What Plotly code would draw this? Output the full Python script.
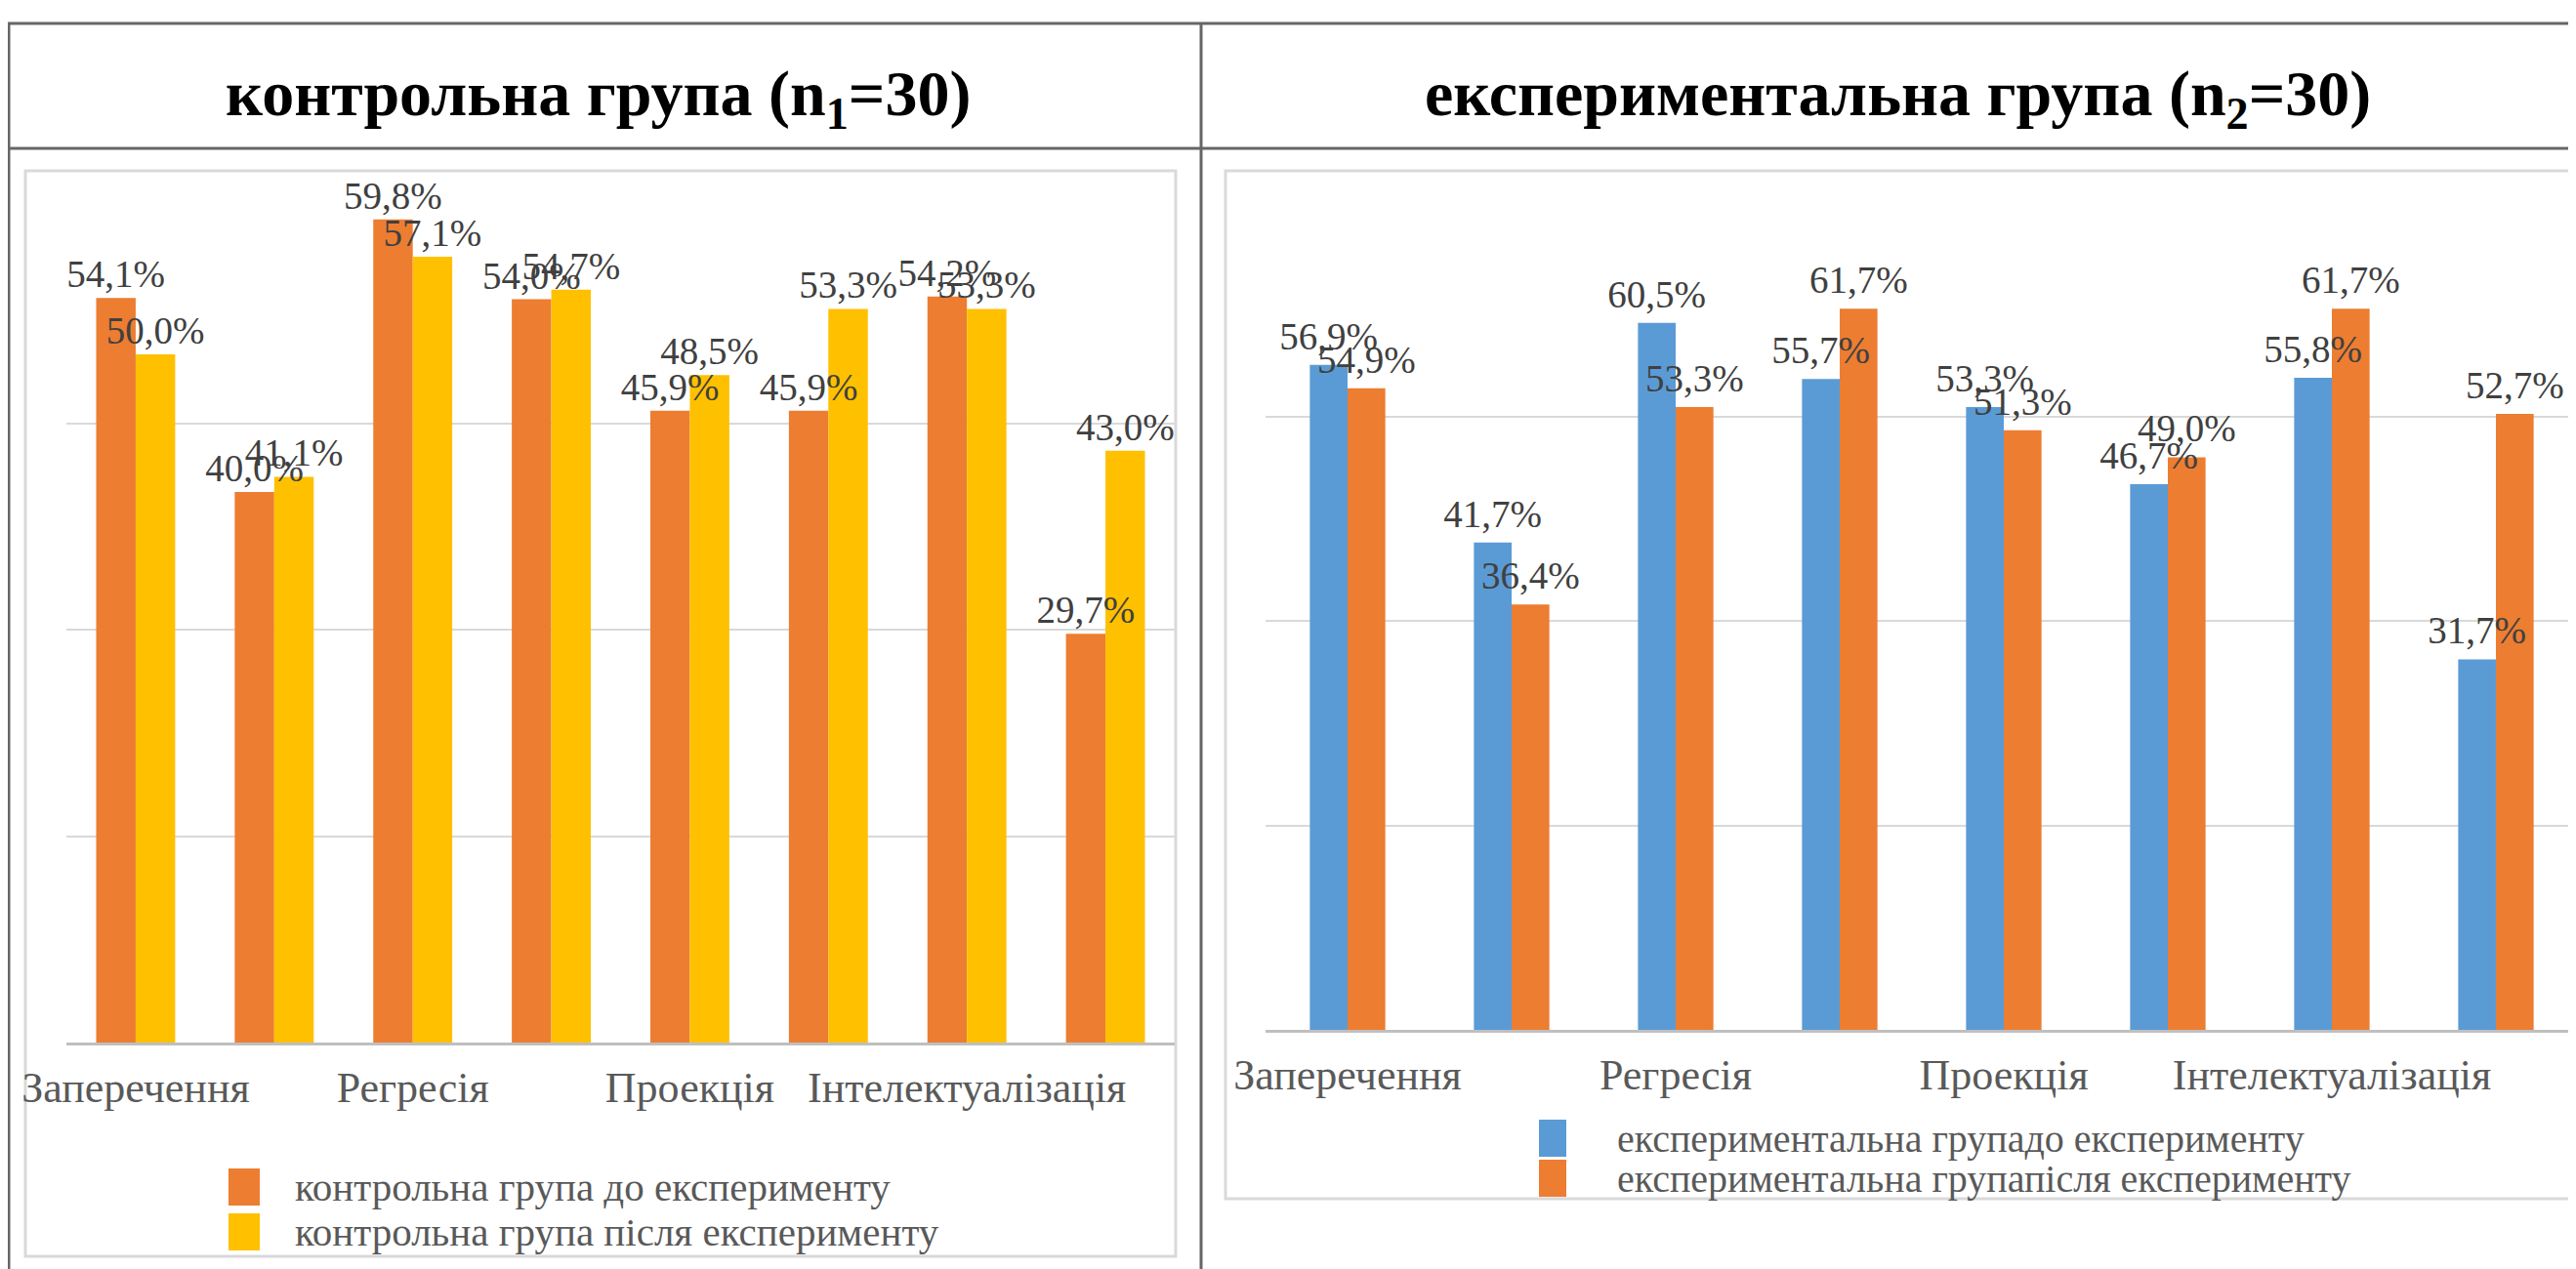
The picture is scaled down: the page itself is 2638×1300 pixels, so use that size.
import plotly.graph_objects as go

W, H = 2638, 1300
OX, OY = 8, 8  # page body margin compensation

categories = ["Заперечення", "Витіснення", "Регресія", "Компенсація",
              "Проекція", "Заміщення", "Інтелектуалізація", "Реактивні утворення"]
tick_labels = ["Заперечення", "Регресія", "Проекція", "Інтелектуалізація"]
tick_cats = [categories[0], categories[2], categories[4], categories[6]]

control_names = ["контрольна група до експерименту", "контрольна група після експерименту"]
control_before = [54.1, 40.0, 59.8, 54.0, 45.9, 45.9, 54.2, 29.7]
control_after = [50.0, 41.1, 57.1, 54.7, 48.5, 53.3, 53.3, 43.0]

exp_names = ["експериментальна групадо експерименту", "експериментальна групапісля експерименту"]
exp_before = [56.9, 41.7, 60.5, 55.7, 53.3, 46.7, 55.8, 31.7]
exp_after = [54.9, 36.4, 53.3, 61.7, 51.3, 49.0, 61.7, 52.7]

titles = ["контрольна група (n<sub>1</sub>=30)", "експериментальна група (n<sub>2</sub>=30)"]

ORANGE = "#ED7D31"
YELLOW = "#FFC000"
BLUE = "#5B9BD5"
FONT = "Liberation Serif"
LABEL_COLOR = "#404040"
TICK_COLOR = "#595959"


def px_x(x):
    return (x - OX) / W


def px_y(y):
    return 1 - (y - OY) / H


def bar(x, y, name, color, xa, ya, offset, width):
    return go.Bar(
        x=x, y=y, name=name, xaxis=xa, yaxis=ya,
        offset=offset, width=width,
        marker=dict(color=color, line=dict(width=0)),
        showlegend=False,
    )


def label_bar(x, y, name, xa, ya, offset, width, lift):
    # transparent copy drawn last so value labels sit above every bar
    return go.Bar(
        x=x, y=y, name=name, xaxis=xa, yaxis=ya, base=lift,
        offset=offset, width=width,
        marker=dict(color="rgba(0,0,0,0)", line=dict(width=0)),
        texttemplate="%{y:.1f}%", textposition="outside",
        textfont=dict(family=FONT, size=39, color=LABEL_COLOR),
        constraintext="none", cliponaxis=False, showlegend=False, hoverinfo="skip",
    )


LW = 0.285  # left bar width (category units)
RW = 0.23   # right bar width

series = [
    (control_before, control_names[0], ORANGE, "x", "y", -LW, LW, 0),
    (control_after, control_names[1], YELLOW, "x", "y", 0, LW, 0),
    (exp_before, exp_names[0], BLUE, "x2", "y2", -RW, RW, 0.42),
    (exp_after, exp_names[1], ORANGE, "x2", "y2", 0, RW, 0.42),
]

fig = go.Figure()
for vals, nm, col, xa, ya, off, wd, lift in series:
    fig.add_trace(bar(categories, vals, nm, col, xa, ya, off, wd))
for vals, nm, col, xa, ya, off, wd, lift in series:
    fig.add_trace(label_bar(categories, vals, nm, xa, ya, off, wd, lift))

xcommon = dict(
    type="category", categoryorder="array", categoryarray=categories,
    tickmode="array", tickvals=tick_cats, ticktext=tick_labels,
    tickfont=dict(family=FONT, size=44, color=TICK_COLOR),
    showgrid=False, zeroline=False, showline=True, linecolor="#BFBFBF", linewidth=3,
    ticks="", ticklabelstandoff=5, automargin=False,
)
ycommon = dict(
    showticklabels=False, showgrid=True, gridcolor="#D9D9D9", gridwidth=2,
    zeroline=False, showline=False, ticks="", tick0=0, automargin=False,
)

fig.update_layout(
    width=W, height=H, autosize=False,
    margin=dict(l=0, r=0, t=0, b=0, pad=0, autoexpand=False),
    paper_bgcolor="white", plot_bgcolor="white",
    separators=", ",
    barmode="overlay",
    showlegend=False,
    xaxis=dict(domain=[px_x(68), px_x(1203)], anchor="y", **xcommon),
    yaxis=dict(domain=[px_y(1068), px_y(222)], range=[0, 60], dtick=15, anchor="x", **ycommon),
    xaxis2=dict(domain=[px_x(1296), px_x(2640)], anchor="y2", **xcommon),
    yaxis2=dict(domain=[px_y(1055), px_y(217)], range=[0, 70], dtick=17.5, anchor="x2", **ycommon),
)

shapes = []
# chart-area frames
shapes.append(dict(type="rect", xref="paper", yref="paper",
                   x0=px_x(26), x1=px_x(1204), y0=px_y(1287), y1=px_y(175),
                   line=dict(color="#D9D9D9", width=3), layer="below"))
shapes.append(dict(type="rect", xref="paper", yref="paper",
                   x0=px_x(1255), x1=px_x(2680), y0=px_y(1228), y1=px_y(175),
                   line=dict(color="#D9D9D9", width=3), layer="below"))
# table borders
for (x0, y0, x1, y1) in [(0, 24, W + OX, 24), (0, 152, W + OX, 152),
                         (9, 24, 9, H + OY), (1230, 24, 1230, H + OY)]:
    shapes.append(dict(type="line", xref="paper", yref="paper",
                       x0=px_x(x0), x1=px_x(x1), y0=px_y(y0), y1=px_y(y1),
                       line=dict(color="#666666", width=3)))

annotations = []
# titles
for tx, t in zip([612, 1943], titles):
    annotations.append(dict(xref="paper", yref="paper", x=px_x(tx), y=px_y(100),
                            text="<b>" + t + "</b>", showarrow=False,
                            xanchor="center", yanchor="middle",
                            font=dict(family=FONT, size=66, color="black")))

# legends (manual, large swatches)
legend_specs = [
    (234, 266, 300, [1216, 1262], control_names, [ORANGE, YELLOW], 41),
    (1576, 1604, 1654, [1166, 1207], exp_names, [BLUE, ORANGE], 40),
]
for sx0, sx1, tx, ys, names, colors, fs in legend_specs:
    for yc, nm, col in zip(ys, names, colors):
        shapes.append(dict(type="rect", xref="paper", yref="paper",
                           x0=px_x(sx0), x1=px_x(sx1), y0=px_y(yc + 19), y1=px_y(yc - 19),
                           fillcolor=col, line=dict(width=0)))
        annotations.append(dict(xref="paper", yref="paper", x=px_x(tx), y=px_y(yc),
                                text=nm, showarrow=False, xanchor="left", yanchor="middle",
                                font=dict(family=FONT, size=fs, color=TICK_COLOR)))

fig.update_layout(shapes=shapes, annotations=annotations)
fig.write_html("out.html")
